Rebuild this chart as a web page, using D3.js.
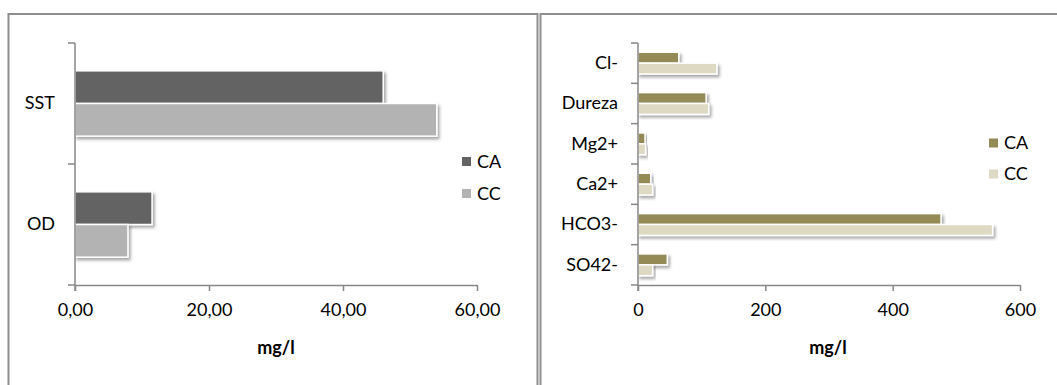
<!DOCTYPE html>
<html>
<head>
<meta charset="utf-8">
<script src="https://cdn.jsdelivr.net/npm/d3@7/dist/d3.min.js"></script>
<style>
  html, body { margin: 0; padding: 0; background: #fff; }
  svg { display: block; font-family: Lato, "Open Sans", sans-serif; }
</style>
</head>
<body>
<svg id="chart" width="1057" height="385"></svg>
<script>
// ---- Data ----
const seriesNames = ["CA", "CC"];

const leftCategories = ["SST", "OD"];
const leftCA = [46.0, 11.5];
const leftCC = [54.0, 7.9];
const leftTicks = [0, 20, 40, 60];

const rightCategories = ["Cl-", "Dureza", "Mg2+", "Ca2+", "HCO3-", "SO42-"];
const rightCA = [64, 107, 11, 20, 476, 46];
const rightCC = [124, 111, 12, 23, 557, 23];
const rightTicks = [0, 200, 400, 600];

const axisTitle = "mg/l";

// ---- Drawing ----
const svg = d3.select("#chart");
const defs = svg.append("defs");
const f = defs.append("filter").attr("id", "shadow")
  .attr("x", "-10%").attr("y", "-30%").attr("width", "130%").attr("height", "180%");
f.append("feDropShadow").attr("dx", 2).attr("dy", 2.5).attr("stdDeviation", 1.6)
  .attr("flood-color", "#000").attr("flood-opacity", 0.35);

const borderColor = "#8e8e8e";
const axisColor = "#878787";

// panel borders
svg.append("path").attr("d", "M8.5,400 V14 H537.5 V400")
  .attr("fill", "none").attr("stroke", borderColor).attr("stroke-width", 2);
svg.append("path").attr("d", "M540.5,400 V14 H1070")
  .attr("fill", "none").attr("stroke", borderColor).attr("stroke-width", 2);

function drawChart(opts) {
  const { x0, x1, y0, y1, cats, ca, cc, ticks, dom, fmt, colors, legendX, legendY, legendGap, titleX } = opts;
  const g = svg.append("g");
  const x = d3.scaleLinear().domain(dom).range([x0, x1]);
  const yb = d3.scaleBand().domain(cats).range([y0, y1]).padding(0);
  const step = yb.step();
  const ys = d3.scaleBand().domain(seriesNames).range([step * 0.23, step * 0.77]).padding(0);
  const data = cats.map((c, i) => ({ cat: c, vals: [ca[i], cc[i]] }));

  // bars
  const grp = g.selectAll("g.cat").data(data).join("g")
    .attr("transform", d => `translate(0,${yb(d.cat)})`);
  grp.selectAll("rect").data(d => d.vals.map((v, j) => ({ v, s: seriesNames[j] })))
    .join("rect")
    .attr("x", x(0))
    .attr("y", d => ys(d.s))
    .attr("width", d => x(d.v) - x(0))
    .attr("height", ys.bandwidth())
    .attr("fill", d => colors[seriesNames.indexOf(d.s)])
    .attr("stroke", "#fff").attr("stroke-width", 1.5)
    .attr("filter", "url(#shadow)");

  // x axis
  const xa = d3.axisBottom(x).tickValues(ticks).tickFormat(fmt).tickSize(6).tickSizeOuter(0).tickPadding(12);
  const xg = g.append("g").attr("transform", `translate(0,${y1})`).call(xa);
  xg.select(".domain").attr("stroke", axisColor).attr("stroke-width", 1.5).attr("d", `M${x0},0.5H${x1}`);
  xg.selectAll(".tick line").attr("stroke", axisColor).attr("stroke-width", 1.5);
  xg.selectAll(".tick text").attr("fill", "#000").style("font-size", "18px").style("font-family", "Lato");

  // y axis (boundary ticks)
  const bounds = cats.map(c => yb(c)).concat([y1]);
  g.append("line").attr("x1", x(0)).attr("x2", x(0)).attr("y1", y0).attr("y2", y1 + 6)
    .attr("stroke", axisColor).attr("stroke-width", 1.5);
  g.selectAll("line.yt").data(bounds).join("line").attr("class", "yt")
    .attr("x1", x(0) - 7).attr("x2", x(0)).attr("y1", d => d).attr("y2", d => d)
    .attr("stroke", axisColor).attr("stroke-width", 1.5);
  const ya = d3.axisLeft(yb).tickSize(0).tickPadding(20);
  const yg = g.append("g").attr("transform", `translate(${x(0)},0)`).call(ya);
  yg.select(".domain").remove();
  yg.selectAll(".tick text").attr("fill", "#000").style("font-size", "18px").style("font-family", "Lato");

  // axis title
  g.append("text").attr("x", titleX).attr("y", 354).attr("text-anchor", "middle")
    .attr("font-weight", "bold").style("font-size", "18px").text(axisTitle);

  // legend
  const lg = g.selectAll("g.leg").data(seriesNames).join("g")
    .attr("transform", (d, i) => `translate(${legendX},${legendY + i * legendGap})`);
  lg.append("rect").attr("x", 0).attr("y", -4.5).attr("width", 9).attr("height", 9)
    .attr("fill", (d, i) => colors[i]);
  lg.append("text").attr("x", 15).attr("y", 0).attr("dy", "0.35em")
    .style("font-size", "18px").text(d => d);
}

const commaFmt = d => d3.format(".2f")(d).replace(".", ",");

drawChart({
  x0: 75, x1: 477, y0: 43, y1: 285,
  cats: leftCategories, ca: leftCA, cc: leftCC,
  ticks: leftTicks, dom: [0, 60], fmt: commaFmt,
  colors: ["#636363", "#b3b3b3"],
  legendX: 462, legendY: 161.5, legendGap: 32, titleX: 276
});

drawChart({
  x0: 638, x1: 1020, y0: 43, y1: 285,
  cats: rightCategories, ca: rightCA, cc: rightCC,
  ticks: rightTicks, dom: [0, 600], fmt: d3.format("d"),
  colors: ["#948a54", "#ddd9c3"],
  legendX: 989, legendY: 143, legendGap: 31, titleX: 828
});
</script>
</body>
</html>
